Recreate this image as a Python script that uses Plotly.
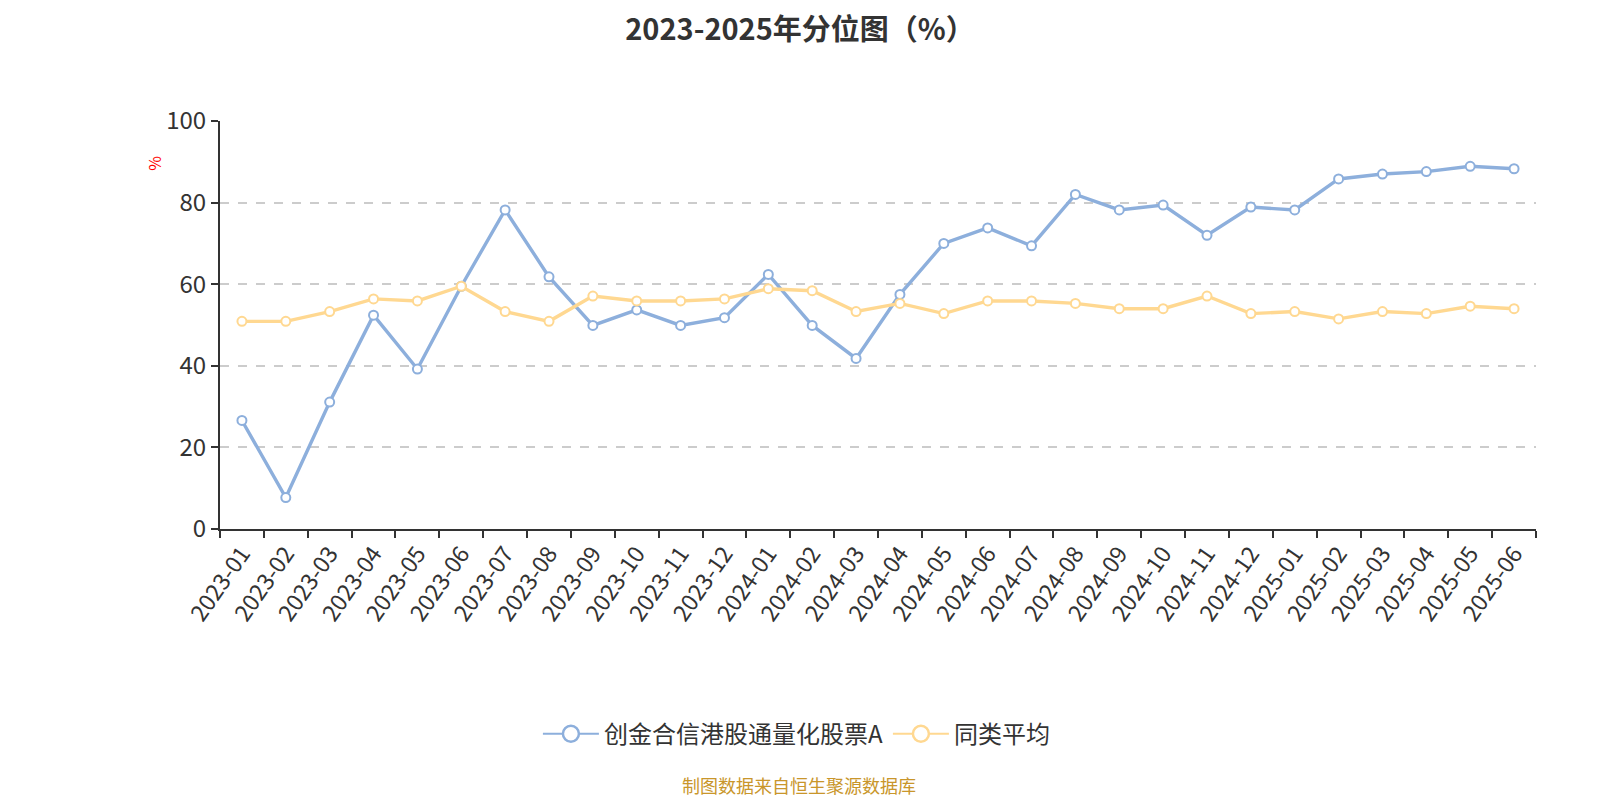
import plotly.graph_objects as go

months = ["2023-01","2023-02","2023-03","2023-04","2023-05","2023-06","2023-07","2023-08","2023-09","2023-10",
          "2023-11","2023-12","2024-01","2024-02","2024-03","2024-04","2024-05","2024-06","2024-07","2024-08",
          "2024-09","2024-10","2024-11","2024-12","2025-01","2025-02","2025-03","2025-04","2025-05","2025-06"]
fund_name = "创金合信港股通量化股票A"
fund_values = [26.6, 7.7, 31.1, 52.4, 39.2, 59.5, 78.2, 61.8, 49.9, 53.7,
               49.9, 51.8, 62.4, 49.9, 41.8, 57.5, 70.0, 73.8, 69.4, 82.0,
               78.2, 79.4, 72.0, 78.9, 78.2, 85.8, 87.0, 87.6, 88.9, 88.3]
avg_name = "同类平均"
avg_values = [50.9, 50.9, 53.3, 56.4, 55.9, 59.5, 53.3, 50.9, 57.1, 55.9,
              55.9, 56.4, 58.9, 58.4, 53.3, 55.3, 52.8, 55.9, 55.9, 55.3,
              54.0, 54.0, 57.1, 52.8, 53.3, 51.5, 53.3, 52.8, 54.6, 54.0]
y_ticks = [0, 20, 40, 60, 80, 100]

FONT = "Noto Sans CJK SC, Noto Sans, sans-serif"
BLUE = "#8DAFDC"
YELLOW = "#FFD891"

fig = go.Figure()
for name, vals, color in [(fund_name, fund_values, BLUE), (avg_name, avg_values, YELLOW)]:
    fig.add_trace(go.Scatter(
        x=months, y=vals, name=name, mode="lines+markers", showlegend=False,
        line=dict(color=color, width=3.4),
        marker=dict(symbol="circle", size=9, color="white", line=dict(color=color, width=2)),
    ))
# legend entries with larger symbols
for name, color in [(fund_name, BLUE), (avg_name, YELLOW)]:
    fig.add_trace(go.Scatter(
        x=[None], y=[None], name=name, mode="lines+markers", showlegend=True,
        line=dict(color=color, width=2),
        marker=dict(symbol="circle", size=20, color="white", line=dict(color=color, width=2.5)),
    ))

fig.update_layout(
    width=1600, height=800,
    paper_bgcolor="white", plot_bgcolor="white",
    margin=dict(l=212, r=72, t=113, b=279),
    font=dict(family=FONT, color="#333333"),
    title=dict(text="<b>2023-2025年分位图（%）</b>", x=0.495, xanchor="center",
               y=0.986, yanchor="top", font=dict(size=29, color="#333333", family=FONT)),
    showlegend=True,
    legend=dict(orientation="h", x=0.438, xanchor="center", y=-0.503, yanchor="middle",
                font=dict(size=24, color="#333333"), itemwidth=56, itemsizing="trace"),
)
fig.update_xaxes(
    type="category", range=[-0.5, len(months) - 0.5], automargin=False,
    tickson="boundaries", ticks="outside", ticklen=7, tickcolor="#333333", tickwidth=2,
    showline=True, linecolor="#333333", linewidth=2,
    showgrid=False, tickangle=-55, tickfont=dict(size=23, color="#333333"),
)
fig.update_yaxes(
    range=[0, 100], tickvals=y_ticks, ticks="outside", ticklen=7, tickcolor="#333333", tickwidth=2,
    showline=True, linecolor="#333333", linewidth=2, automargin=False,
    showgrid=True, gridcolor="#cccccc", griddash="dash", gridwidth=1.5,
    zeroline=False, tickfont=dict(size=24, color="#333333"),
)
fig.add_annotation(text="%", xref="paper", yref="paper", x=-0.061, y=0.92, textangle=-90,
                   showarrow=False, font=dict(size=16, color="red"))
fig.add_annotation(text="制图数据来自恒生聚源数据库", xref="paper", yref="paper", x=0.44, y=-0.628,
                   xanchor="center", yanchor="middle", showarrow=False,
                   font=dict(size=18, color="#C9962B"))

fig.write_html("out.html")
